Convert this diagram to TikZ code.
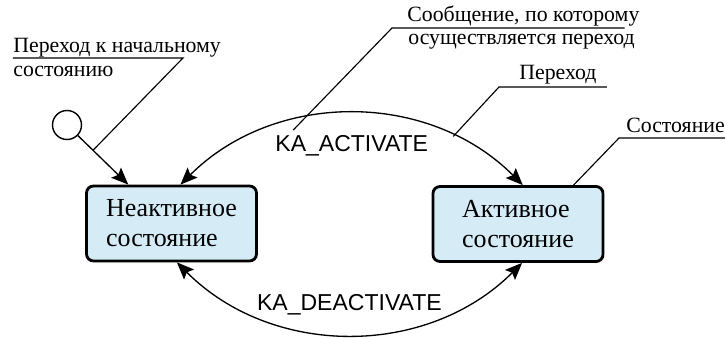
\documentclass[tikz,border=0pt]{standalone}
\usepackage{fontspec}
\setmainfont{Liberation Serif}
\newfontfamily\msgfont{Liberation Sans}
\usetikzlibrary{positioning,arrows.meta,calc}
\definecolor{statefill}{RGB}{213,235,246}

\begin{document}
\begin{tikzpicture}
        [state/.style={
            rectangle,
            rounded corners=4pt,
            draw,
            line width=1.6pt,
            fill=statefill,
            minimum width=3.4cm,
            minimum height=1.5cm,
            align=left,
            font=\fontsize{14.8}{17}\selectfont},
          initial/.style={circle, draw, line width=0.8pt,
            minimum size=0.58cm, inner sep=0pt},
          trans/.style={line width=0.75pt},
          msg/.style={font=\msgfont\fontsize{13.1}{15}\selectfont, inner sep=0pt},
          note/.style={font=\fontsize{12.4}{14}\selectfont, inner sep=0pt,
            anchor=base west},
          leader/.style={line width=0.65pt},
          >={Stealth[length=3.4mm,width=2.8mm,inset=0.6mm]}]
        \useasboundingbox (0,0) rectangle (14.52,6.76);

        % states
        \node[state] (inactive) at (3.43,2.29) {Неактивное\\состояние};
        \node[state] (active) at (10.36,2.28) {Активное\\состояние};
        \node[initial] (init) at (1.34,4.26) {};

        % transitions
        \draw[trans, ->] (init) -- coordinate[pos=0.3] (initpt) (inactive.138);
        \draw[trans, <->] (inactive.77) to[bend left=45]
            node[msg, below=0.42cm] (actlbl) {KA\_ACTIVATE}
            coordinate[pos=0.78] (arcpt) (active.83);
        \draw[trans, <->] (inactive.-82) to[bend right=45]
            node[msg, above=0.37cm] (deactlbl) {KA\_DEACTIVATE} (active.-84);

        % notes
        \coordinate (initknee) at (3.66,5.60);
        \node[note] (initlbl) at (0.26,5.70) {Переход к начальному};
        \node[note] (initlblb) at (0.26,5.22) {состоянию};
        \draw[leader] (initpt) -- (initknee) -- (initknee -| initlbl.west);

        \coordinate (msgknee) at (7.84,6.20);
        \node[note] (msglbl) at (8.14,6.32) {Сообщение, по которому};
        \node[note] (msglblb) at (8.16,5.86) {осуществляется переход};
        \draw[leader] ($(actlbl.north west)!0.12!(actlbl.north east)+(0,0.1)$)
            -- (msgknee) -- ([xshift=-0.3cm]msgknee -| msglbl.east);

        \coordinate (transknee) at (9.98,5.02);
        \node[note] (translbl) at (10.38,5.16) {Переход};
        \draw[leader] (arcpt) -- (transknee) -- ([xshift=0.2cm]transknee -| translbl.east);

        \coordinate (stateknee) at (12.38,4.00);
        \node[note] (statelbl) at (12.52,4.10) {Состояние};
        \draw[leader] (active.35) -- (stateknee) -- (stateknee -| statelbl.east);
\end{tikzpicture}
\end{document}
